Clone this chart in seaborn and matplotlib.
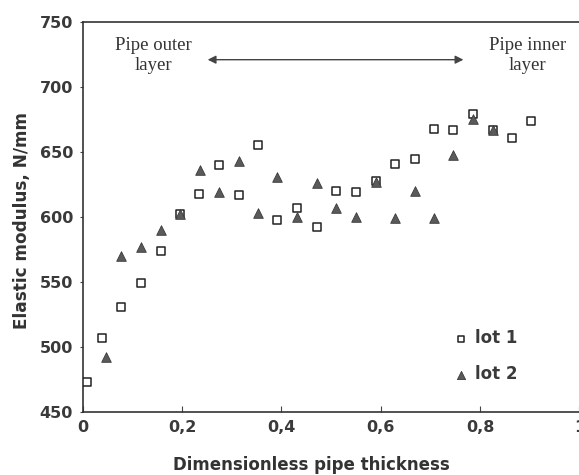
import matplotlib
matplotlib.use("Agg")
import matplotlib.pyplot as plt
import seaborn as sns
import pandas as pd

# Data
lot1_x = [0.008, 0.039, 0.078, 0.118, 0.157, 0.196, 0.235, 0.275, 0.314, 0.353,
          0.392, 0.431, 0.471, 0.510, 0.550, 0.590, 0.629, 0.668, 0.707, 0.746,
          0.785, 0.825, 0.864, 0.903]
lot1_y = [473, 507, 531, 549, 574, 602, 618, 640, 617, 655,
          598, 607, 592, 620, 619, 628, 641, 645, 668, 667,
          679, 667, 661, 674]
lot2_x = [0.047, 0.078, 0.118, 0.157, 0.196, 0.236, 0.275, 0.314, 0.353, 0.392,
          0.431, 0.471, 0.510, 0.550, 0.590, 0.629, 0.668, 0.707, 0.746, 0.785,
          0.825]
lot2_y = [492, 570, 577, 590, 602, 636, 619, 643, 603, 631,
          600, 626, 607, 600, 627, 599, 620, 599, 648, 675,
          667]
x_ticks = [0, 0.2, 0.4, 0.6, 0.8, 1.0]
x_tick_labels = ["0", "0,2", "0,4", "0,6", "0,8", "1"]
y_ticks = [450, 500, 550, 600, 650, 700, 750]

sns.set_style("ticks")
plt.rcParams['font.family'] = ['DejaVu Sans']

fig = plt.figure(figsize=(5.79, 4.75), dpi=100)
ax = fig.add_axes([0.1428, 0.1326, 0.858, 0.8211])

df1 = pd.DataFrame({"x": lot1_x, "y": lot1_y})
df2 = pd.DataFrame({"x": lot2_x, "y": lot2_y})

sns.scatterplot(data=df1, x="x", y="y", ax=ax, marker="s", s=26,
                facecolor="white", edgecolor="#222222", linewidth=1.1,
                label="lot 1", zorder=3)
sns.scatterplot(data=df2, x="x", y="y", ax=ax, marker="^", s=48,
                color="#5a5a5a", edgecolor="#3a3a3a", linewidth=0.6,
                label="lot 2", zorder=4)

ax.set_xlim(0, 1)
ax.set_ylim(450, 750)
ax.set_xticks(x_ticks)
ax.set_xticklabels(x_tick_labels)
ax.set_yticks(y_ticks)
for lab in ax.get_xticklabels() + ax.get_yticklabels():
    lab.set_fontweight("bold")
    lab.set_fontsize(11.5)
    lab.set_color("#3a3a3a")
ax.tick_params(axis="x", direction="in", length=4, color="#444444", pad=6)
ax.tick_params(axis="y", direction="out", length=2, color="#444444", pad=5)

for sp in ["left", "top", "bottom"]:
    ax.spines[sp].set_color("#333333")
    ax.spines[sp].set_linewidth(1.2)
ax.spines["right"].set_visible(False)

ax.set_xlabel("Dimensionless pipe thickness", fontsize=12, fontweight="bold",
              color="#333333")
ax.xaxis.set_label_coords(0.46, -0.112)
ax.set_ylabel("Elastic modulus, N/mm", fontsize=12.2, fontweight="bold",
              color="#333333")
ax.yaxis.set_label_coords(-0.104, 0.492)

ax.text(0.142, 724.5, "Pipe outer\nlayer", ha="center", va="center",
        fontsize=13.5, family="Liberation Serif", color="#333333", linespacing=1.25)
ax.text(0.896, 724.5, "Pipe inner\nlayer", ha="center", va="center",
        fontsize=13.5, family="Liberation Serif", color="#333333", linespacing=1.25)
ax.annotate("", xy=(0.246, 721), xytext=(0.772, 721),
            arrowprops=dict(arrowstyle="<|-|>", color="#444444", lw=1.0,
                            mutation_scale=12))

leg = ax.legend(loc="center left", bbox_to_anchor=(0.7455, 0.143), frameon=False,
                prop={"weight": "bold", "size": 12}, handlelength=1.0,
                handletextpad=0.3, labelspacing=1.05, markerscale=0.85,
                borderaxespad=0, borderpad=0)
for t in leg.get_texts():
    t.set_color("#3a3a3a")

fig.savefig("out.png", dpi=100, facecolor="white")
